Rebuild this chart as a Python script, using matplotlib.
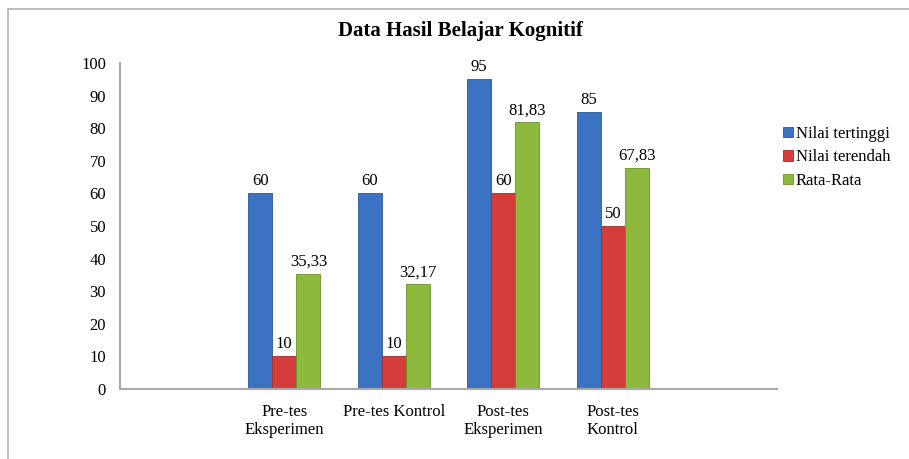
import numpy as np
import matplotlib.pyplot as plt
from matplotlib.patches import Rectangle

plt.rcParams['font.family'] = ['Liberation Serif', 'DejaVu Serif']

# Data (first and last slots are empty categories, as in the original)
categories = ['', 'Pre-tes\nEksperimen', 'Pre-tes Kontrol', 'Post-tes\nEksperimen', 'Post-tes\nKontrol', '']
nilai_tertinggi = [np.nan, 60, 60, 95, 85, np.nan]
nilai_terendah = [np.nan, 10, 10, 60, 50, np.nan]
rata_rata = [np.nan, 35.33, 32.17, 81.83, 67.83, np.nan]
series_names = ['Nilai tertinggi', 'Nilai terendah', 'Rata-Rata']
colors = ['#3B73C2', '#D43D3A', '#8DBA3C']
edge_colors = ['#2A5896', '#A52A28', '#6A9228']

fig = plt.figure(figsize=(9.09, 4.59), dpi=100)
ax = fig.add_axes([120 / 909, 1 - 389 / 459, 657 / 909, 326 / 459])

# frame around the chart area (cut off at right and bottom)
fig.patches.append(Rectangle((8 / 909, -0.1), 1.1, 1 - 9 / 459 + 0.1, transform=fig.transFigure,
                             fill=False, edgecolor='#B0B0B0', linewidth=1.2))

x = np.arange(len(categories))
width = 0.22
offsets = [-width, 0, width]

for vals, off, col, ec, name in zip([nilai_tertinggi, nilai_terendah, rata_rata],
                                    offsets, colors, edge_colors, series_names):
    bars = ax.bar(x + off, vals, width=width, color=col, edgecolor=ec, linewidth=0.6, label=name)
    for xi, v in zip(x, vals):
        if np.isnan(v):
            continue
        txt = f'{v:.2f}'.replace('.', ',') if v != int(v) else f'{int(v)}'
        ax.text(xi + off, v + 1.2, txt, ha='center', va='bottom', fontsize=12)

ax.set_xlim(-0.5, len(categories) - 0.5)
ax.set_ylim(0, 100)
ax.set_yticks(range(0, 101, 10))
ax.set_xticks(x)
ax.set_xticklabels(categories, fontsize=12, linespacing=1.15)
ax.tick_params(axis='both', length=0, labelsize=12)
ax.tick_params(axis='y', pad=10)
ax.tick_params(axis='x', pad=11)

for s in ['top', 'right']:
    ax.spines[s].set_visible(False)
for s in ['left', 'bottom']:
    ax.spines[s].set_color('#A8A8A8')
    ax.spines[s].set_linewidth(1.5)

fig.text(460 / 909, 1 - 31 / 459, 'Data Hasil Belajar Kognitif', ha='center', va='center',
         fontsize=15, fontweight='bold')

fig.legend(loc='upper left', bbox_to_anchor=(776 / 909, 1 - 119 / 459), frameon=False,
           fontsize=12, handlelength=0.6, handleheight=0.6, handletextpad=0.2,
           labelspacing=0.45, borderaxespad=0)

plt.savefig('out.png', dpi=100)
